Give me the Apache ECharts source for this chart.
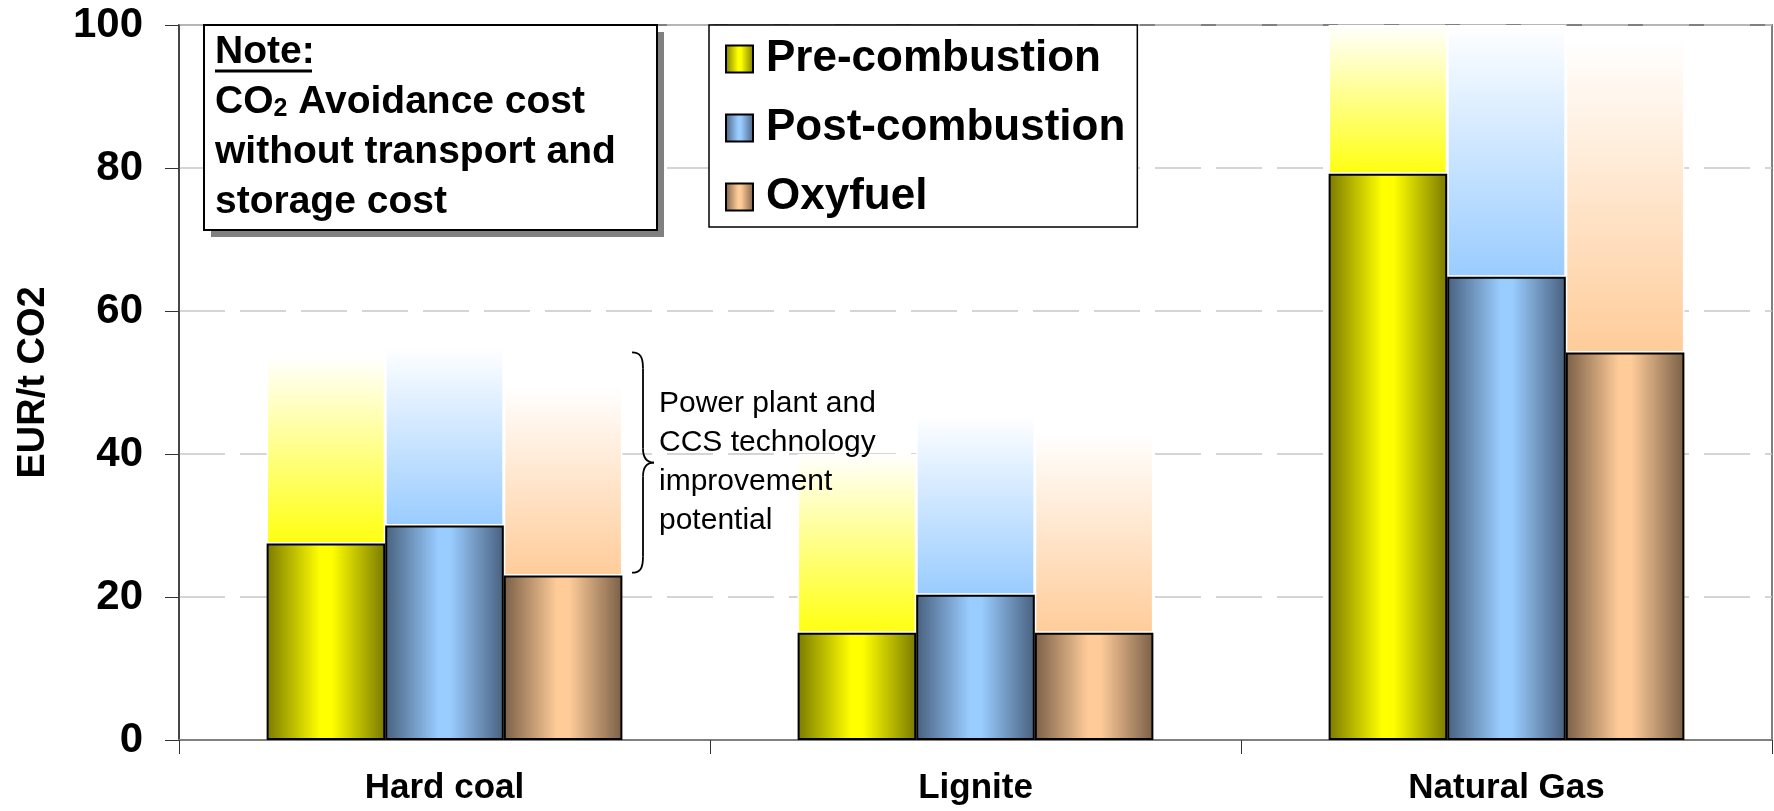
<!DOCTYPE html>
<html>
<head>
<meta charset="utf-8">
<script src="https://cdn.jsdelivr.net/npm/echarts@6/dist/echarts.min.js"></script>
<style>
html,body{margin:0;padding:0;background:#fff;}
#chart{width:1774px;height:811px;}
</style>
</head>
<body>
<div id="chart"></div>
<script>
const categories = ['Hard coal', 'Lignite', 'Natural Gas'];
const seriesNames = ['Pre-combustion', 'Post-combustion', 'Oxyfuel'];
const preCombustion = [27.5, 15.0, 79.2];
const postCombustion = [30.0, 20.3, 64.8];
const oxyfuel = [23.0, 15.0, 54.2];
// upper end of the "improvement potential" (faded) bars
const prePotentialTop = [53.5, 40.0, 100];
const postPotentialTop = [55.0, 45.5, 100];
const oxyPotentialTop = [49.5, 43.0, 98];
const yTicks = [0, 20, 40, 60, 80, 100];
const noteLines = ['Note:', 'CO{sub|2} Avoidance cost', 'without transport and', 'storage cost'];
const annotationText = ['Power plant and', 'CCS technology', 'improvement', 'potential'];
const bracketRange = [54.2, 23.4];

const FONT = "'Liberation Sans', Arial, sans-serif";
const chart = echarts.init(document.getElementById('chart'));

function hGrad(dark, light) {
  return new echarts.graphic.LinearGradient(0, 0, 1, 0, [
    {offset: 0, color: dark}, {offset: 0.45, color: light},
    {offset: 0.55, color: light}, {offset: 1, color: dark}
  ]);
}
function vGrad(color) {
  return new echarts.graphic.LinearGradient(0, 0, 0, 1, [
    {offset: 0, color: '#ffffff'}, {offset: 1, color: color}
  ]);
}
const solidColors = [hGrad('#7a7a00', '#ffff00'), hGrad('#48607e', '#99ccff'), hGrad('#7a5f47', '#ffcc99')];
const fadeColors = [vGrad('#ffff10'), vGrad('#99ccff'), vGrad('#ffcc99')];
const bases = [preCombustion, postCombustion, oxyfuel];
const tops = [prePotentialTop, postPotentialTop, oxyPotentialTop];
const stacks = ['pre', 'post', 'oxy'];

const series = [];
for (let i = 0; i < 3; i++) {
  series.push({
    name: seriesNames[i], type: 'bar', stack: stacks[i], data: bases[i],
    barGap: '0%', barCategoryGap: '33%', z: 3,
    itemStyle: {color: solidColors[i], borderColor: '#000', borderWidth: 2}
  });
}
for (let i = 0; i < 3; i++) {
  series.push({
    name: seriesNames[i] + ' potential', type: 'bar', stack: stacks[i],
    data: tops[i].map((t, k) => +(t - bases[i][k]).toFixed(2)),
    barGap: '0%', barCategoryGap: '33%', z: 2, silent: true,
    itemStyle: {color: fadeColors[i], borderColor: '#ffffff', borderWidth: 1.5}
  });
}

const option = {
  animation: false,
  backgroundColor: '#ffffff',
  textStyle: {fontFamily: FONT},
  grid: {left: 179, right: 2, top: 25, bottom: 71, show: true, containLabel: false,
         outerBoundsMode: 'none',
         borderColor: '#808080', borderWidth: 2, backgroundColor: '#ffffff'},
  legend: {
    data: seriesNames, orient: 'vertical', left: 709, top: 25,
    backgroundColor: '#ffffff', borderColor: '#000', borderWidth: 1.5,
    padding: [12, 12, 8, 16], itemGap: 25, itemWidth: 27, itemHeight: 27,
    icon: 'rect',
    textStyle: {fontSize: 44, fontWeight: 'bold', color: '#000', fontFamily: FONT, padding: [0, 0, 0, 8]}
  },
  xAxis: {
    type: 'category', data: categories,
    axisLine: {lineStyle: {color: '#808080', width: 2}},
    axisTick: {show: true, length: 14, lineStyle: {color: '#333', width: 1}},
    axisLabel: {fontSize: 35, fontWeight: 'bold', color: '#000', margin: 31, fontFamily: FONT}
  },
  yAxis: {
    type: 'value', min: yTicks[0], max: yTicks[yTicks.length - 1], interval: 20,
    name: 'EUR/t CO2', nameLocation: 'middle', nameGap: 126, nameRotate: 90,
    nameTextStyle: {fontSize: 38, fontWeight: 'bold', color: '#000', fontFamily: FONT},
    axisLine: {show: true, lineStyle: {color: '#333', width: 1.5}},
    axisTick: {show: true, length: 14, lineStyle: {color: '#333', width: 1}},
    axisLabel: {fontSize: 42, fontWeight: 'bold', color: '#000', margin: 36, fontFamily: FONT},
    splitLine: {show: true, lineStyle: {type: [46, 15], color: '#c8c8c8', width: 1.5}}
  },
  series: series
};
chart.setOption(option);

const yT = chart.convertToPixel({yAxisIndex: 0}, bracketRange[0]);
const yB = chart.convertToPixel({yAxisIndex: 0}, bracketRange[1]);
const yM = (yT + yB) / 2;
const x0 = 632, xv = x0 + 11, xp = x0 + 22;
const bStyle = {stroke: '#000', lineWidth: 1.8, fill: null};
const bracket = [
  {type: 'bezierCurve', shape: {x1: x0, y1: yT, cpx1: x0 + 8, cpy1: yT, cpx2: xv, cpy2: yT + 4, x2: xv, y2: yT + 16}, style: bStyle, z: 12},
  {type: 'line', shape: {x1: xv, y1: yT + 16, x2: xv, y2: yM - 14}, style: bStyle, z: 12},
  {type: 'bezierCurve', shape: {x1: xv, y1: yM - 14, cpx1: xv, cpy1: yM - 4, cpx2: xv + 4, cpy2: yM, x2: xp, y2: yM}, style: bStyle, z: 12},
  {type: 'bezierCurve', shape: {x1: xp, y1: yM, cpx1: xv + 4, cpy1: yM, cpx2: xv, cpy2: yM + 4, x2: xv, y2: yM + 14}, style: bStyle, z: 12},
  {type: 'line', shape: {x1: xv, y1: yM + 14, x2: xv, y2: yB - 16}, style: bStyle, z: 12},
  {type: 'bezierCurve', shape: {x1: xv, y1: yB - 16, cpx1: xv, cpy1: yB - 4, cpx2: x0 + 8, cpy2: yB, x2: x0, y2: yB}, style: bStyle, z: 12}
];

const noteFont = {fontSize: 39, fontWeight: 'bold', fill: '#000', fontFamily: FONT};
chart.setOption({
  graphic: [
    {type: 'rect', shape: {x: 211, y: 32, width: 453, height: 205}, style: {fill: '#808080'}, z: 10},
    {type: 'rect', shape: {x: 204, y: 25, width: 453, height: 205}, style: {fill: '#fff', stroke: '#000', lineWidth: 2}, z: 11},
    {type: 'text', x: 215, y: 52, z: 12, style: Object.assign({text: noteLines[0], verticalAlign: 'middle'}, noteFont)},
    {type: 'line', shape: {x1: 215, y1: 71, x2: 312, y2: 71}, style: {stroke: '#000', lineWidth: 3}, z: 12},
    {type: 'text', x: 215, y: 102, z: 12, style: Object.assign({text: noteLines[1], verticalAlign: 'middle',
      rich: {sub: {fontSize: 25, fontWeight: 'bold', fontFamily: FONT, verticalAlign: 'bottom', padding: [14, 0, 0, 0]}}}, noteFont)},
    {type: 'text', x: 215, y: 152, z: 12, style: Object.assign({text: noteLines[2], verticalAlign: 'middle'}, noteFont)},
    {type: 'text', x: 215, y: 202, z: 12, style: Object.assign({text: noteLines[3], verticalAlign: 'middle'}, noteFont)},
    {type: 'text', x: 659, y: 384, z: 12, style: {text: annotationText.join('\n'), fontSize: 30, lineHeight: 39,
      fill: '#000', fontFamily: FONT, verticalAlign: 'top'}}
  ].concat(bracket)
});
</script>
</body>
</html>
